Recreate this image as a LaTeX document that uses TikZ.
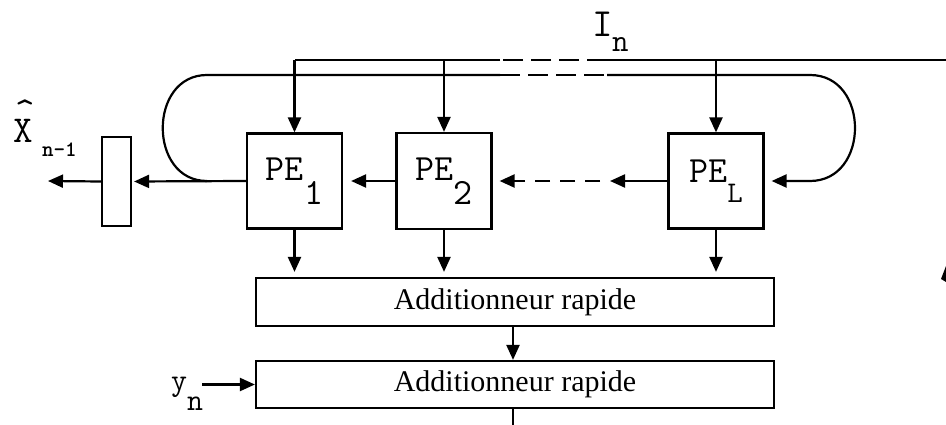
\documentclass[tikz,border=0pt]{standalone}
\usepackage{fontspec}
\setmainfont{Liberation Serif}
\usetikzlibrary{arrows.meta}
\begin{document}
\begin{tikzpicture}[x=1pt,y=-1pt,line width=2.2pt,
  tip/.style={-{Triangle[length=15pt,width=13pt]}},
  busdash/.style={dash pattern=on 20pt off 8pt},
  arrdash/.style={dash pattern=on 15pt off 10pt},
  pebox/.style={draw,inner sep=0pt,minimum width=95pt,minimum height=95pt,
    font=\fontsize{37}{37}\ttfamily\selectfont},
  addbox/.style={draw,inner sep=0pt,minimum width=518pt,minimum height=48pt,
    font=\fontsize{30}{30}\selectfont},
  lbl/.style={inner sep=0pt,anchor=base west,font=\fontsize{38}{38}\ttfamily\selectfont}]
\useasboundingbox (0,0) rectangle (946,425);

% boxes
\node[draw,inner sep=0pt,minimum width=29pt,minimum height=89pt] (sr) at (116.5,181.5) {};
\node[pebox] (pe1) at (294.5,181) {PE\raisebox{-24pt}{1}};
\node[pebox,minimum height=96pt] (pe2) at (444,181) {PE\raisebox{-24pt}{2}};
\node[pebox] (pel) at (716,181) {PE\raisebox{-20pt}{\fontsize{30}{30}\selectfont L}};
\node[addbox] (add1) at (515,302) {Additionneur rapide};
\node[addbox,minimum height=47pt] (add2) at (515,384.5) {Additionneur rapide};

% labels
\node[lbl,font=\fontsize{40}{40}\ttfamily\selectfont] (In) at (591,37) {I};
\node[lbl,font=\fontsize{32}{32}\ttfamily\selectfont] (Insub) at (611,52) {n};
\node[lbl] (Xh) at (12,143) {X};
\node[inner sep=0pt,anchor=north,font=\fontsize{38}{38}\ttfamily\selectfont] (hat) at (25,99) {\raisebox{0pt}[\height][-14pt]{\char"5E}};
\node[lbl,font=\fontsize{22}{22}\ttfamily\bfseries\selectfont] (Xsub) at (41,157) {n-1};
\node[lbl,font=\fontsize{31}{31}\ttfamily\selectfont] (y) at (170,390) {y};
\node[lbl,font=\fontsize{31}{31}\ttfamily\selectfont] (ysub) at (186,410) {n};

% coordinates
\coordinate (busR) at (946,60);
\coordinate (busA) at (607,60);
\coordinate (busB) at (500,60);
\coordinate (loopL) at (207,75);
\coordinate (loopA) at (500,75);
\coordinate (loopB) at (607,75);
\coordinate (loopR) at (810,75);
\coordinate (out) at (48,181);
\coordinate (dm1) at (610,181);
\coordinate (dm2) at (600,181);
\coordinate (bot) at (515,425);
\coordinate (ynA) at (202,384.5);

% input bus I_n
\draw (busR) -- (busA);
\draw[busdash] (busA) -- (busB);
\draw (busB) -- (busB -| pe1.north);
\draw[tip] (pe1.north |- busR) -- (pe1.north);
\draw[tip] (pe2.north |- busR) -- (pe2.north);
\draw[tip] (pel.north |- busR) -- (pel.north);

% feedback loop
\draw (loopA) -- (loopL) .. controls (148,75) and (148,181) .. (207,181);
\draw[busdash] (loopA) -- (loopB);
\draw[tip,shorten >=7pt] (loopB) -- (loopR) .. controls (870,75) and (870,181) .. (810,181) -- (pel.east);

% horizontal chain
\draw[tip] (pel.west) -- (dm1);
\draw[tip,arrdash,shorten >=7pt] (dm2) -- (pe2.east);
\draw[tip,shorten >=8pt] (pe2.west) -- (pe1.east);
\draw[tip,shorten >=2pt] (pe1.west) -- (sr.east);
\draw[tip] (sr.west) -- (out);

% to adders
\draw[tip,shorten >=5pt] (pe1.south) -- (pe1.south |- add1.north);
\draw[tip,shorten >=5pt] (pe2.south) -- (pe2.south |- add1.north);
\draw[tip,shorten >=5pt] (pel.south) -- (pel.south |- add1.north);
\draw[tip] (add1.south -| 513,0) -- (add2.north -| 513,0);
\draw (add2.south -| 513,0) -- (bot -| 513,0);
\draw[tip] (ynA) -- (add2.west);

% stray mark at right edge
\fill (946,266) -- (941,279) -- (946,282) -- cycle;
\end{tikzpicture}
\end{document}
